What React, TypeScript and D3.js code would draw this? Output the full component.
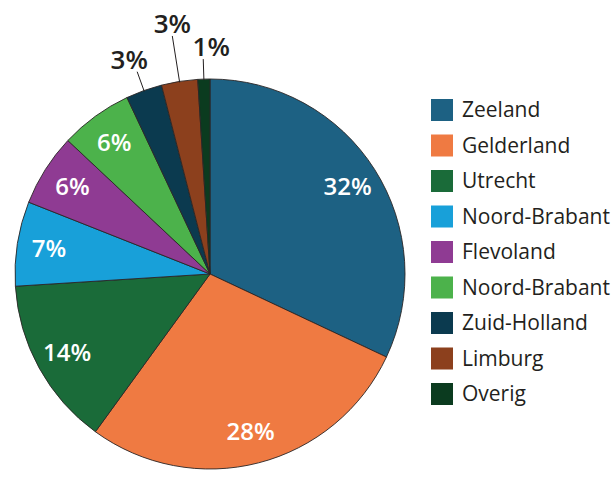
import * as d3 from 'd3';

const provinces = [
  'Zeeland',
  'Gelderland',
  'Utrecht',
  'Noord-Brabant',
  'Flevoland',
  'Noord-Brabant',
  'Zuid-Holland',
  'Limburg',
  'Overig'
];
const shares = [32, 28, 14, 7, 6, 6, 3, 3, 1];
const sliceColors = [
  '#1d6183',
  '#ef7a42',
  '#1a6b39',
  '#18a0d9',
  '#8f3b93',
  '#4cb24b',
  '#0b3a4f',
  '#8c401d',
  '#0b3b1f'
];

const W = 616;
const H = 477;
const cx = 210;
const cy = 274;
const radius = 195;
const font = "'Open Sans', 'DejaVu Sans', sans-serif";

type Slice = { name: string; value: number; color: string; idx: number };

export default function App() {
  const rows: Slice[] = provinces.map((name, i) => ({
    name,
    value: shares[i],
    color: sliceColors[i],
    idx: i
  }));

  const pie = d3
    .pie<Slice>()
    .sort(null)
    .value((d) => d.value);
  const arcs = pie(rows);

  const arc = d3.arc<d3.PieArcDatum<Slice>>().innerRadius(0).outerRadius(radius);
  const labelArc = d3
    .arc<d3.PieArcDatum<Slice>>()
    .innerRadius(163)
    .outerRadius(163);

  // small slices get their label outside, with a leader line; stagger them
  const small = arcs.filter((a) => a.data.value < 5);
  const spread = (small.length - 1) / 2;

  const legendY = d3
    .scalePoint<number>()
    .domain(rows.map((d) => d.idx))
    .range([110, 394]);

  return (
    <svg
      width={W}
      height={H}
      style={{ position: 'absolute', left: 0, top: 0, background: '#fff' }}
    >
      <g transform={`translate(${cx},${cy})`}>
        {arcs.map((a) => (
          <path
            key={a.index}
            d={arc(a) ?? ''}
            fill={a.data.color}
            stroke="#2a2626"
            strokeWidth={0.9}
          />
        ))}
        {arcs
          .filter((a) => a.data.value >= 5)
          .map((a) => {
            const [x, y] = labelArc.centroid(a);
            return (
              <text
                key={a.index}
                x={x}
                y={y}
                dy="0.35em"
                textAnchor="middle"
                fill="#fff"
                fontFamily={font}
                fontWeight={600}
                fontSize={24}
              >
                {a.data.value}%
              </text>
            );
          })}
        {small.map((a, i) => {
          const mid = (a.startAngle + a.endAngle) / 2;
          const r0 = radius - 1;
          const r1 = radius + (i % 2 === 1 ? 46 : 20);
          const x0 = Math.sin(mid) * r0;
          const y0 = -Math.cos(mid) * r0;
          const x1 = Math.sin(mid) * r1;
          const y1 = -Math.cos(mid) * r1;
          return (
            <g key={a.index}>
              <line x1={x0} y1={y0} x2={x1} y2={y1} stroke="#231f20" strokeWidth={1} />
              <text
                x={x1 + (i - spread) * 8}
                y={y1 - 3}
                textAnchor="middle"
                fill="#231f20"
                fontFamily={font}
                fontWeight={600}
                fontSize={26}
              >
                {a.data.value}%
              </text>
            </g>
          );
        })}
      </g>
      <g>
        {rows.map((d) => {
          const y = legendY(d.idx) ?? 0;
          return (
            <g key={d.idx} transform={`translate(431,${y})`}>
              <rect x={0} y={-11} width={22} height={22} fill={d.color} />
              <text
                x={31}
                y={0}
                dy="0.35em"
                fill="#231f20"
                fontFamily={font}
                fontSize={21}
              >
                {d.name}
              </text>
            </g>
          );
        })}
      </g>
    </svg>
  );
}
